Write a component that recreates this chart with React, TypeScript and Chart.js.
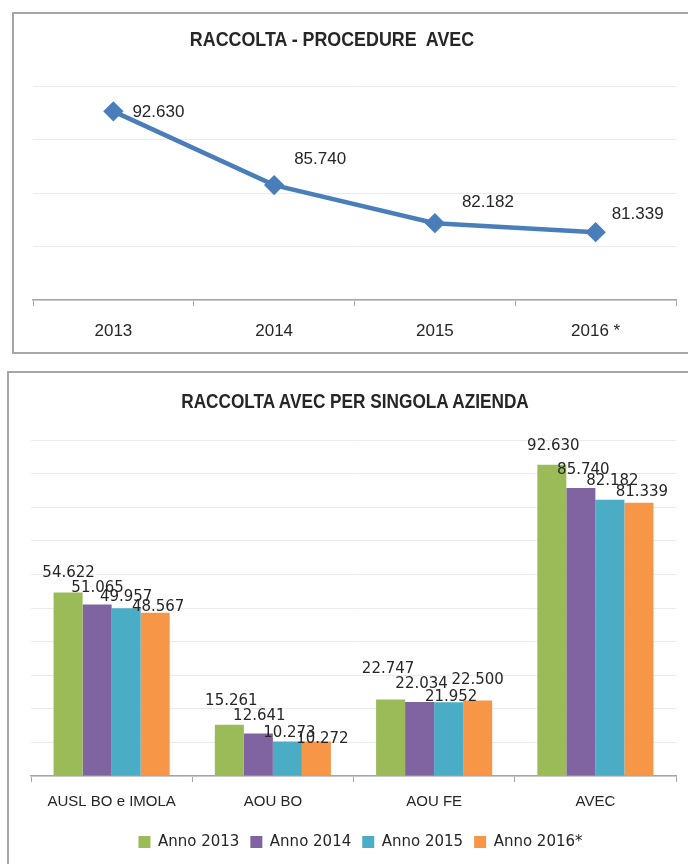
import React, { useEffect, useRef } from 'react';
import { Chart, registerables } from 'chart.js';

Chart.register(...registerables);

// ---- data ----
const lineYears = ['2013', '2014', '2015', '2016 *'];
const lineValues = [92630, 85740, 82182, 81339];

const barCategories = ['AUSL BO e IMOLA', 'AOU BO', 'AOU FE', 'AVEC'];
const seriesNames = ['Anno 2013', 'Anno 2014', 'Anno 2015', 'Anno 2016*'];
const anno2013 = [54622, 15261, 22747, 92630];
const anno2014 = [51065, 12641, 22034, 85740];
const anno2015 = [49957, 10273, 21952, 82182];
const anno2016 = [48567, 10272, 22500, 81339];

const lineTitle = 'RACCOLTA - PROCEDURE  AVEC';
const barTitle = 'RACCOLTA AVEC PER SINGOLA AZIENDA';

// ---- styles ----
const TEXT_COLOR = '#262626';
const AXIS_COLOR = '#a6a6a6';
const GRID_COLOR = '#ebebeb';
const barColors = ['#9BBB59', '#8064A2', '#4BACC6', '#F79646'];

function fmt(v: number): string {
  return String(Math.round(v)).replace(/\B(?=(\d{3})+(?!\d))/g, '.');
}

const valueLabels = {
  id: 'valueLabels',
  afterDatasetsDraw(chart: any, _args: any, opts: any) {
    const ctx = chart.ctx;
    ctx.save();
    ctx.font = opts.font;
    ctx.fillStyle = opts.color;
    ctx.textAlign = opts.align;
    ctx.textBaseline = 'middle';
    chart.data.datasets.forEach((ds: any, di: number) => {
      const meta = chart.getDatasetMeta(di);
      meta.data.forEach((el: any, i: number) => {
        const off = (opts.offsets[di] && opts.offsets[di][i]) || [0, 0];
        ctx.fillText(fmt(ds.data[i]), el.x + off[0], el.y + off[1]);
      });
    });
    ctx.restore();
  },
};

const legendShift = {
  id: 'legendShift',
  afterLayout(chart: any, _args: any, opts: any) {
    if (chart.legend) {
      chart.legend.left += opts.dx || 0;
      chart.legend.right += opts.dx || 0;
    }
  },
};

function Title({ text, cx, cy, squeeze }: { text: string; cx: number; cy: number; squeeze: number }) {
  return (
    <div
      style={{
        position: 'absolute',
        left: cx - 300,
        width: 600,
        top: cy - 12.5,
        height: 25,
        lineHeight: '25px',
        textAlign: 'center',
        fontFamily: '"Liberation Sans", Arial, sans-serif',
        fontWeight: 'bold',
        fontSize: 21,
        color: TEXT_COLOR,
        whiteSpace: 'pre',
        transform: `scaleX(${squeeze})`,
        transformOrigin: 'center',
      }}
    >
      {text}
    </div>
  );
}

function LineChartBox() {
  const ref = useRef<HTMLCanvasElement>(null);
  useEffect(() => {
    if (!ref.current) return;
    const chart = new Chart(ref.current, {
      type: 'line',
      data: {
        labels: lineYears,
        datasets: [
          {
            data: lineValues,
            borderColor: '#4A7EBB',
            backgroundColor: '#4A7EBB',
            borderWidth: 4.5,
            pointStyle: 'rectRot',
            pointRadius: 7,
            pointHoverRadius: 7,
            tension: 0,
          },
        ],
      },
      options: {
        responsive: false,
        animation: false,
        layout: { padding: { left: 19, right: 12, top: 72, bottom: 0 } },
        plugins: {
          legend: { display: false },
          tooltip: { enabled: false },
          title: { display: false },
          valueLabels: {
            font: '17px "Liberation Sans", sans-serif',
            color: TEXT_COLOR,
            align: 'left',
            offsets: [[[19, 1], [20, -26], [27, -21], [16, -18]]],
          },
        } as any,
        scales: {
          x: {
            offset: true,
            grid: { display: true, offset: true, drawOnChartArea: false, drawTicks: true, tickLength: 6, color: AXIS_COLOR },
            border: { display: true, color: AXIS_COLOR, width: 1.5 },
            ticks: { color: TEXT_COLOR, padding: 15, font: { family: '"Liberation Sans", sans-serif', size: 17 } },
            afterFit: (s: any) => { s.height = 52; },
          },
          y: {
            min: 75000,
            max: 95000,
            ticks: { display: false, stepSize: 5000 },
            grid: { color: GRID_COLOR, drawTicks: false },
            border: { display: false },
            afterFit: (s: any) => { s.width = 0; },
          },
        },
      },
      plugins: [valueLabels],
    });
    return () => chart.destroy();
  }, []);
  return (
    <div style={{ position: 'absolute', left: 12, top: 12, width: 700, height: 338, border: `2px solid ${AXIS_COLOR}`, background: '#fff' }}>
      <canvas ref={ref} width={674} height={338} style={{ display: 'block' }} />
    </div>
  );
}

function BarChartBox() {
  const ref = useRef<HTMLCanvasElement>(null);
  useEffect(() => {
    if (!ref.current) return;
    const series = [anno2013, anno2014, anno2015, anno2016];
    const chart = new Chart(ref.current, {
      type: 'bar',
      data: {
        labels: barCategories,
        datasets: series.map((d, i) => ({
          label: seriesNames[i],
          data: d,
          backgroundColor: barColors[i],
          borderWidth: 0,
          categoryPercentage: 0.72,
          barPercentage: 1,
        })),
      },
      options: {
        responsive: false,
        animation: false,
        layout: { padding: { left: 22, right: 12, top: 67, bottom: 4.5 } },
        plugins: {
          tooltip: { enabled: false },
          title: { display: false },
          legend: {
            display: true,
            position: 'bottom',
            fullSize: false,
            labels: {
              boxWidth: 12,
              boxHeight: 12,
              padding: 11,
              color: TEXT_COLOR,
              font: { family: '"DejaVu Sans", sans-serif', size: 15 },
            },
          },
          legendShift: { dx: 7 },
          valueLabels: {
            font: '15px "DejaVu Sans", sans-serif',
            color: TEXT_COLOR,
            align: 'center',
            offsets: [
              [[0.5, -19], [2, -24], [-2.5, -30], [1.5, -19]],
              [[0.5, -16.6], [1, -17.6], [2, -18], [2.5, -18]],
              [[0, -10.6], [2, -8.5], [2.5, -5.3], [2.5, -19]],
              [[3, -5.3], [6, -2.5], [0, -20.5], [3, -11]],
            ],
          },
        } as any,
        scales: {
          x: {
            offset: true,
            grid: { display: true, offset: true, drawOnChartArea: false, drawTicks: true, tickLength: 6, color: AXIS_COLOR },
            border: { display: true, color: AXIS_COLOR, width: 1.5 },
            ticks: { color: TEXT_COLOR, padding: 11, font: { family: '"Liberation Sans", sans-serif', size: 15 } },
            afterFit: (s: any) => { s.height = 47.5; },
          },
          y: {
            min: 0,
            max: 100000,
            ticks: { display: false, stepSize: 10000 },
            grid: { color: GRID_COLOR, drawTicks: false },
            border: { display: false },
            afterFit: (s: any) => { s.width = 0; },
          },
        },
      },
      plugins: [valueLabels, legendShift],
    });
    return () => chart.destroy();
  }, []);
  return (
    <div style={{ position: 'absolute', left: 7, top: 371, width: 700, height: 520, border: `2px solid ${AXIS_COLOR}`, background: '#fff' }}>
      <canvas ref={ref} width={679} height={491} style={{ display: 'block' }} />
    </div>
  );
}

export default function App() {
  return (
    <div style={{ position: 'fixed', left: 0, top: 0, width: 688, height: 864, overflow: 'hidden', background: '#fff' }}>
      <LineChartBox />
      <BarChartBox />
      <Title text={lineTitle} cx={332} cy={38.5} squeeze={0.85} />
      <Title text={barTitle} cx={355} cy={400.5} squeeze={0.82} />
    </div>
  );
}
